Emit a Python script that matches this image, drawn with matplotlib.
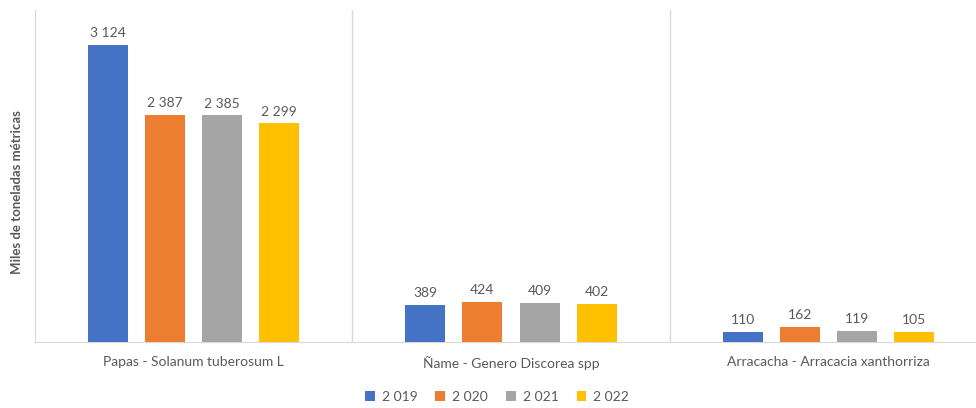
import numpy as np
import matplotlib.pyplot as plt

categorias = ["Papas - Solanum tuberosum L", "Ñame - Genero Discorea spp",
              "Arracacha - Arracacia xanthorriza"]
anios = ["2 019", "2 020", "2 021", "2 022"]
v2019 = [3124, 389, 110]
v2020 = [2387, 424, 162]
v2021 = [2385, 409, 119]
v2022 = [2299, 402, 105]
colores = ["#4472C4", "#ED7D31", "#A5A5A5", "#FFC000"]

plt.rcParams['font.family'] = ['Lato', 'DejaVu Sans']
gris = "#595959"

fig = plt.figure(figsize=(9.76, 4.08), dpi=100)
ax = fig.add_axes([35/976, (408-342)/408, 952/976, 332/408])

x = np.arange(len(categorias))
ancho = 0.126
paso = 0.18
series = [v2019, v2020, v2021, v2022]
for i, (vals, c, lab) in enumerate(zip(series, colores, anios)):
    pos = x + (i - 1.5) * paso
    bars = ax.bar(pos, vals, ancho, color=c, label=lab, zorder=3)
    for b, v in zip(bars, vals):
        ax.text(b.get_x() + b.get_width()/2, v + 60, f"{v:,}".replace(",", " "),
                ha="center", va="bottom", fontsize=10, color=gris)

ax.set_xlim(-0.5, 2.5)
ax.set_ylim(0, 3492)
ax.set_yticks([])
ax.set_xticks(x)
ax.set_xticklabels(categorias, fontsize=10, color=gris)
ax.tick_params(axis="x", length=0, pad=10)
for b in [0.5, 1.5]:
    ax.axvline(b, color="#d9d9d9", lw=1, zorder=1)
for s in ["top", "right"]:
    ax.spines[s].set_visible(False)
ax.spines["left"].set_color("#d9d9d9")
ax.spines["bottom"].set_color("#d9d9d9")

fig.text(17/976, 0.53, "Miles de toneladas métricas", rotation=90, ha="center",
         va="center", fontsize=9.5, fontweight="bold", color=gris)

fig.legend(loc="center", bbox_to_anchor=(497/976, 1 - 397/408), ncol=4, frameon=False,
           fontsize=10, handlelength=0.7, handleheight=0.7, columnspacing=1.3,
           handletextpad=0.5, labelcolor=gris)

plt.savefig("out.png")
